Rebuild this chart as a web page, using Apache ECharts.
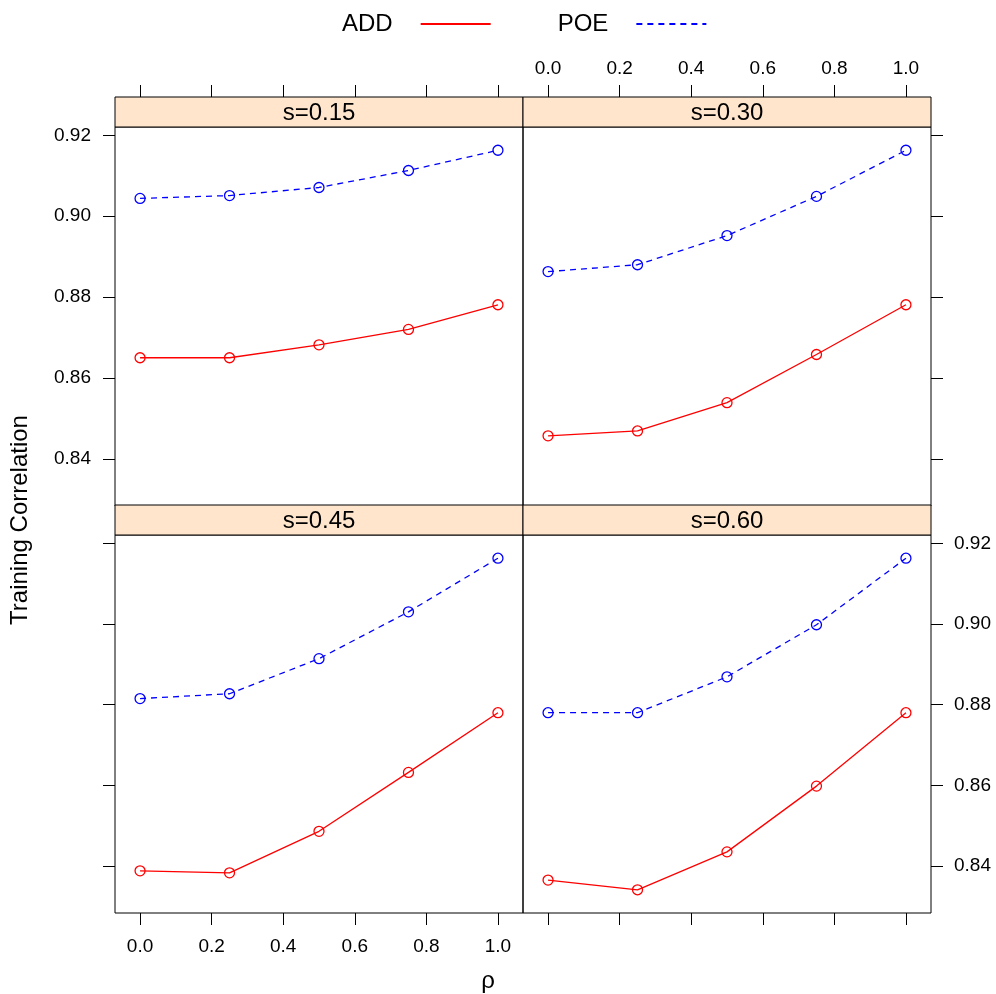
<!DOCTYPE html>
<html>
<head>
<meta charset="utf-8">
<script src="https://cdn.jsdelivr.net/npm/echarts@6/dist/echarts.min.js"></script>
<style>
  html, body { margin: 0; padding: 0; background: #fff; }
  #chart { width: 996px; height: 994px; }
</style>
</head>
<body>
<div id="chart"></div>
<script>
// Training correlation against rho, one panel per s
const rho = [0, 0.25, 0.5, 0.75, 1.0];
const panelNames = ['s=0.15', 's=0.30', 's=0.45', 's=0.60'];

const addS015 = [0.8650, 0.8650, 0.8682, 0.8720, 0.8781];
const poeS015 = [0.9044, 0.9051, 0.9071, 0.9113, 0.9163];
const addS030 = [0.8457, 0.8469, 0.8539, 0.8658, 0.8781];
const poeS030 = [0.8863, 0.8880, 0.8952, 0.9049, 0.9163];
const addS045 = [0.8388, 0.8383, 0.8486, 0.8632, 0.8780];
const poeS045 = [0.8815, 0.8827, 0.8914, 0.9030, 0.9163];
const addS060 = [0.8365, 0.8341, 0.8435, 0.8598, 0.8780];
const poeS060 = [0.8780, 0.8780, 0.8869, 0.8998, 0.9163];

const xTicks = [0, 0.2, 0.4, 0.6, 0.8, 1.0];
const yTicks = [0.84, 0.86, 0.88, 0.90, 0.92];

const addSets = [addS015, addS030, addS045, addS060];
const poeSets = [poeS015, poeS030, poeS045, poeS060];

const FONT = "'Liberation Sans', Arial, Helvetica, sans-serif";
const RED = '#ff0000';
const BLUE = '#0000ff';

// shared y limits padded by 7% of the data range
const allY = addSets.concat(poeSets).flat();
const yLo = Math.min(...allY), yHi = Math.max(...allY);
const yPad = 0.07 * (yHi - yLo);
const xPad = 0.07 * (rho[rho.length - 1] - rho[0]);

// panel geometry (pixels)
const colLeft = [115, 523];
const rowTop = [127, 535];
const panelW = 408;
const panelH = [379, 378];
const stripH = 30;

const cells = [[0, 0], [0, 1], [1, 0], [1, 1]]; // [row, col]

const grids = cells.map(([r, c]) => ({
  left: colLeft[c], top: rowTop[r], width: panelW, height: panelH[r],
  show: true, borderColor: '#000', borderWidth: 1, backgroundColor: 'transparent'
}));

function xAxisFor(gi, pos, showLabels, offset) {
  return {
    type: 'value', gridIndex: gi, position: pos, offset: offset || 0,
    min: rho[0] - xPad, max: rho[rho.length - 1] + xPad,
    axisLine: { show: false, onZero: false },
    splitLine: { show: false },
    axisTick: { show: true, length: 12, customValues: xTicks, lineStyle: { color: '#000', width: 1 } },
    axisLabel: {
      show: showLabels, customValues: xTicks, margin: pos === 'top' ? 19 : 24,
      formatter: v => v.toFixed(1), color: '#000', fontSize: 19, fontFamily: FONT
    }
  };
}
function yAxisFor(gi, pos, showLabels) {
  return {
    type: 'value', gridIndex: gi, position: pos,
    min: yLo - yPad, max: yHi + yPad,
    axisLine: { show: false, onZero: false },
    splitLine: { show: false },
    axisTick: { show: true, length: 12, customValues: yTicks, lineStyle: { color: '#000', width: 1 } },
    axisLabel: {
      show: showLabels, customValues: yTicks, margin: pos === 'left' ? 24 : 23,
      formatter: v => v.toFixed(2), color: '#000', fontSize: 19, fontFamily: FONT
    }
  };
}

const xAxes = [
  xAxisFor(0, 'top', false, stripH),
  xAxisFor(1, 'top', true, stripH),
  xAxisFor(2, 'bottom', true),
  xAxisFor(3, 'bottom', false)
];
const yAxes = [
  yAxisFor(0, 'left', true),
  yAxisFor(1, 'right', false),
  yAxisFor(2, 'left', false),
  yAxisFor(3, 'right', true)
];

function mkSeries(name, values, gi, color, dashed) {
  return {
    name: name, type: 'line', xAxisIndex: gi, yAxisIndex: gi,
    data: rho.map((x, i) => [x, values[i]]),
    symbol: 'circle', symbolSize: 10,
    itemStyle: { color: 'transparent', borderColor: color, borderWidth: 1.3 },
    lineStyle: { color: color, width: 1.3, type: dashed ? [6, 5] : 'solid' },
    emphasis: { disabled: true },
    animation: false, z: 3
  };
}

const series = [];
cells.forEach((_, gi) => {
  series.push(mkSeries('ADD', addSets[gi], gi, RED, false));
  series.push(mkSeries('POE', poeSets[gi], gi, BLUE, true));
});

// strip headers above each panel
const graphics = [];
cells.forEach(([r, c], gi) => {
  graphics.push({
    type: 'rect', z: 10,
    shape: { x: colLeft[c], y: rowTop[r] - stripH, width: panelW, height: stripH },
    style: { fill: '#ffe5cc', stroke: '#000', lineWidth: 1 }
  });
  graphics.push({
    type: 'text', z: 11,
    x: colLeft[c] + panelW / 2, y: rowTop[r] - stripH / 2 + 1,
    style: { text: panelNames[gi], fontSize: 24, fontFamily: FONT, fill: '#000',
             align: 'center', verticalAlign: 'middle' }
  });
});
graphics.push({
  type: 'text', x: 20, y: 520, rotation: Math.PI / 2,
  style: { text: 'Training Correlation', fontSize: 24, fontFamily: FONT, fill: '#000',
           align: 'center', verticalAlign: 'middle' }
});
graphics.push({
  type: 'text', x: 488, y: 981,
  style: { text: 'ρ', fontSize: 24, fontFamily: FONT, fill: '#000',
           align: 'center', verticalAlign: 'middle' }
});

const chart = echarts.init(document.getElementById('chart'), null, { renderer: 'canvas' });
chart.setOption({
  animation: false,
  backgroundColor: '#fff',
  legend: {
    data: ['ADD', 'POE'],
    left: 337, top: 7,
    align: 'right',
    itemWidth: 70, itemHeight: 20, itemGap: 66,
    itemStyle: { opacity: 0 },
    textStyle: { fontSize: 24, fontFamily: FONT, color: '#000', padding: [0, 23, 0, 0] },
    selectedMode: false
  },
  grid: grids,
  xAxis: xAxes,
  yAxis: yAxes,
  series: series,
  graphic: graphics
});
</script>
</body>
</html>
